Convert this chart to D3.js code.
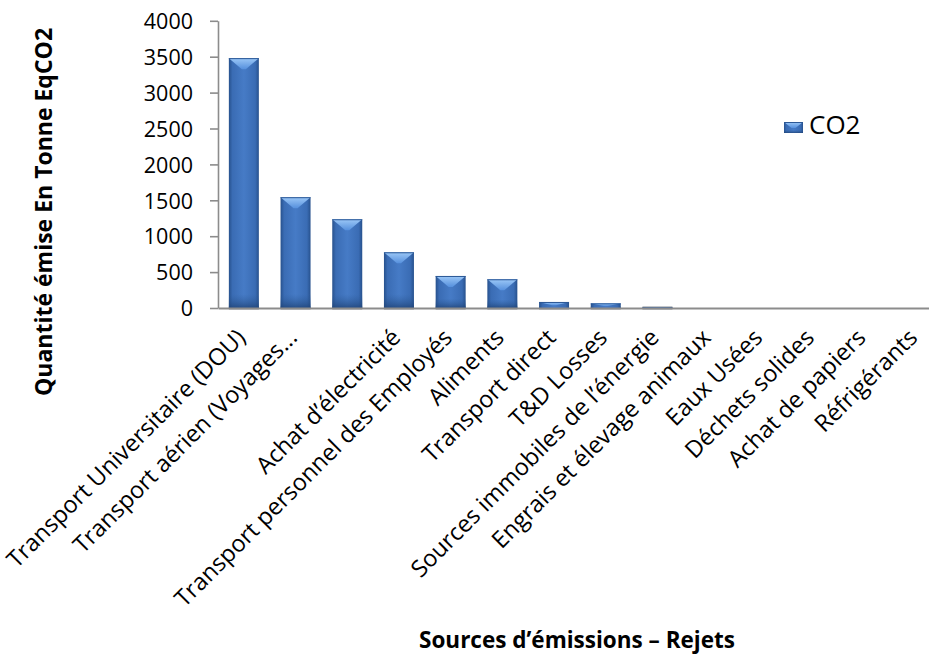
<!DOCTYPE html>
<html>
<head>
<meta charset="utf-8">
<script src="https://cdn.jsdelivr.net/npm/d3@7"></script>
<style>
  html, body { margin: 0; padding: 0; background: #ffffff; }
  svg { display: block; font-family: "Open Sans", "Liberation Sans", sans-serif; }
</style>
</head>
<body>
<svg id="chart" width="929" height="654"></svg>
<script>
// Emission sources (one slot on the axis is left without a caption)
const categories = [
  "Transport Universitaire (DOU)",
  "Transport aérien (Voyages...",
  "",
  "Achat d’électricité",
  "Transport personnel des Employés",
  "Aliments",
  "Transport direct",
  "T&D Losses",
  "Sources immobiles de l’énergie",
  "Engrais et élevage animaux",
  "Eaux Usées",
  "Déchets solides",
  "Achat de papiers",
  "Réfrigérants"
];
// Tonnes of CO2 equivalent per source
const co2Values = [3480, 1543, 1236, 776, 446, 400, 84, 65, 8, 0, 0, 0, 0, 0];
const yTicks = [0, 500, 1000, 1500, 2000, 2500, 3000, 3500, 4000];
const seriesName = "CO2";
const yTitle = "Quantité émise En Tonne EqCO2";
const xTitle = "Sources d’émissions – Rejets";

const svg = d3.select("#chart");
const plotLeft = 218, plotBottom = 308, plotTop = 20.8, slotStep = 51.7;

const x = d3.scaleBand()
  .domain(d3.range(categories.length))
  .range([plotLeft, plotLeft + slotStep * categories.length])
  .paddingInner(0.42)
  .paddingOuter(0.21);

const y = d3.scaleLinear().domain([0, 4000]).range([plotBottom, plotTop]);

// Gradients for the bevelled bars
const defs = svg.append("defs");
const body = defs.append("linearGradient").attr("id", "barBody")
  .attr("x1", "0").attr("x2", "1").attr("y1", "0").attr("y2", "0");
[["0%", "#27518d"], ["12%", "#3a6cb4"], ["50%", "#467bc6"], ["88%", "#3a6cb4"], ["100%", "#27518d"]]
  .forEach(([o, c]) => body.append("stop").attr("offset", o).attr("stop-color", c));
const cap = defs.append("linearGradient").attr("id", "barCap")
  .attr("x1", "0").attr("x2", "0").attr("y1", "0").attr("y2", "1");
[["0%", "#9cc8f7"], ["100%", "#5690dd"]]
  .forEach(([o, c]) => cap.append("stop").attr("offset", o).attr("stop-color", c));
const shade = defs.append("linearGradient").attr("id", "barShade")
  .attr("x1", "0").attr("x2", "0").attr("y1", "0").attr("y2", "1");
[["0%", "#2f5f9f", 0], ["100%", "#1f4275", 0.8]]
  .forEach(([o, c, a]) => shade.append("stop").attr("offset", o).attr("stop-color", c).attr("stop-opacity", a));

function drawBevelBar(g, x0, y0, w, h) {
  if (h <= 0) return;
  const cx = x0 + w / 2;
  const b = Math.min(11, h * 0.55);
  g.append("rect").attr("x", x0).attr("y", y0).attr("width", w).attr("height", h)
    .attr("fill", "url(#barBody)");
  if (h > 8) {
    g.append("rect").attr("x", x0).attr("y", y0 + h - Math.min(14, h * 0.3))
      .attr("width", w).attr("height", Math.min(14, h * 0.3)).attr("fill", "url(#barShade)");
  }
  g.append("polygon")
    .attr("points", [[x0, y0], [x0 + w, y0], [cx + 2, y0 + b], [cx - 2, y0 + b]].map(p => p.join(",")).join(" "))
    .attr("fill", "url(#barCap)");
  g.append("line").attr("x1", x0).attr("x2", x0 + w).attr("y1", y0 + 0.5).attr("y2", y0 + 0.5)
    .attr("stroke", "#2c5896").attr("stroke-width", 1);
}

// Bars (zero values draw nothing)
const bars = svg.append("g");
co2Values.forEach((v, i) => {
  if (v <= 0) return;
  const g = bars.append("g");
  const h = plotBottom - y(v);
  // grey base under each bar
  g.append("rect").attr("x", x(i)).attr("y", plotBottom - 1.5).attr("width", x.bandwidth()).attr("height", 3)
    .attr("fill", "#8a8f96");
  drawBevelBar(g, x(i), y(v), x.bandwidth(), h);
});

// Y axis
const yAxis = svg.append("g").attr("transform", `translate(${plotLeft},0)`)
  .call(d3.axisLeft(y).tickValues(yTicks).tickSize(8).tickSizeOuter(0).tickPadding(17).tickFormat(d3.format("d")));
yAxis.select(".domain").attr("stroke", "#8c8c8c").attr("stroke-width", 1.6);
yAxis.selectAll(".tick line").attr("stroke", "#8c8c8c").attr("stroke-width", 1.6);
yAxis.selectAll(".tick text").attr("font-size", 21.5).attr("fill", "#000").attr("font-family", "Open Sans").attr("dy", "0.36em");

// X axis
const xAxis = svg.append("g").attr("transform", `translate(0,${plotBottom})`)
  .call(d3.axisBottom(x).tickSize(0).tickSizeOuter(0).tickFormat(i => categories[i]));
xAxis.select(".domain").attr("stroke", "#8c8c8c").attr("stroke-width", 2);
xAxis.selectAll(".tick text")
  .attr("x", 0).attr("y", 0).attr("dy", 0)
  .attr("text-anchor", "end")
  .attr("transform", "translate(3,31) rotate(-45)")
  .attr("font-size", 23.5).attr("fill", "#000").attr("font-family", "Open Sans");

// Axis titles
svg.append("text")
  .attr("transform", "translate(52,212) rotate(-90)")
  .attr("text-anchor", "middle")
  .attr("font-weight", "bold").attr("font-size", 23)
  .text(yTitle);
svg.append("text")
  .attr("x", 577).attr("y", 648)
  .attr("text-anchor", "middle")
  .attr("font-weight", "bold").attr("font-size", 22.5)
  .text(xTitle);

// Legend
const legend = svg.append("g");
drawBevelBar(legend, 784, 122, 19, 11);
legend.append("text").attr("x", 809).attr("y", 134)
  .attr("font-size", 26).attr("fill", "#000")
  .text(seriesName);
</script>
</body>
</html>
